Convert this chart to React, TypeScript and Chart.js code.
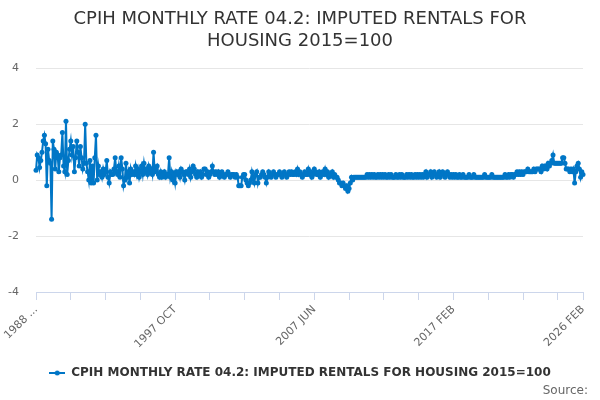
import React, { useEffect, useRef } from 'react';
import { Chart, registerables } from 'chart.js';

Chart.register(...registerables);
Chart.defaults.font.family = "'DejaVu Sans', sans-serif";

const MONTHS = ['JAN', 'FEB', 'MAR', 'APR', 'MAY', 'JUN', 'JUL', 'AUG', 'SEP', 'OCT', 'NOV', 'DEC'];
const START_YEAR = 1988;
const START_MONTH = 1; // FEB

// monthly rate, %
const rates1980s = [
  0.35, 0.9, 0.8, 0.45, 0.7, 1.0, 1.4, 1.6, 1.3, -0.2, 1.1, // 1988 FEB-DEC
  0.7, 0.6, -1.4, 1.4, 1.1, 0.4, 1.0, 0.9, 0.3, 0.8, 0.9, 1.7, // 1989
];
const rates1990s = [
  0.5, 0.3, 2.1, 0.2, 0.7, 1.1, 1.4, 0.9, 1.2, 0.3, 0.8, 1.4,
  1.0, 0.5, 1.2, 0.8, 0.4, 0.6, 2.0, 0.6, 0.3, 0.0, 0.7, -0.1,
  0.5, -0.1, 0.8, 1.6, 0.0, 0.5, 0.2, 0.3, 0.1, 0.4, 0.2, 0.3,
  0.7, 0.1, -0.1, 0.3, 0.2, 0.2, 0.4, 0.8, 0.3, 0.2, 0.5, 0.1,
  0.8, 0.4, -0.2, 0.0, 0.6, 0.1, 0.3, -0.1, 0.4, 0.2, 0.3, 0.2,
  0.5, 0.2, 0.4, 0.1, 0.3, 0.5, 0.2, 0.6, 0.3, 0.4, 0.2, 0.5,
  0.3, 0.4, 0.2, 1.0, 0.3, 0.4, 0.5, 0.2, 0.1, 0.3, 0.1, 0.2,
  0.3, 0.1, 0.2, 0.2, 0.8, 0.1, 0.3, 0.0, 0.2, -0.1, 0.3, 0.2,
  0.3, 0.1, 0.4, 0.3, 0.2, 0.0, 0.3, 0.3, 0.2, 0.4, 0.1, 0.3,
  0.5, 0.4, 0.2, 0.1, 0.3, 0.2, 0.3, 0.1, 0.2, 0.4, 0.4, 0.2,
];
const rates2000s = [
  0.3, 0.1, 0.2, 0.3, 0.5, 0.3, 0.2, 0.3, 0.2, 0.3, 0.1, 0.2,
  0.3, 0.2, 0.1, 0.2, 0.2, 0.3, 0.2, 0.1, 0.2, 0.2, 0.2, 0.1,
  0.2, 0.1, -0.2, -0.2, -0.2, 0.1, 0.2, 0.2, 0.0, -0.1, -0.2, -0.1,
  0.0, 0.3, 0.1, -0.1, 0.2, 0.3, -0.1, 0.1, 0.1, 0.2, 0.3, 0.2,
  0.1, -0.1, 0.1, 0.3, 0.2, 0.1, 0.2, 0.3, 0.2, 0.1, 0.2, 0.2,
  0.3, 0.2, 0.1, 0.2, 0.3, 0.2, 0.1, 0.2, 0.3, 0.2, 0.3, 0.2,
  0.2, 0.3, 0.2, 0.4, 0.2, 0.3, 0.2, 0.1, 0.2, 0.3, 0.2, 0.2,
  0.4, 0.2, 0.3, 0.1, 0.2, 0.4, 0.3, 0.2, 0.2, 0.3, 0.1, 0.2,
  0.3, 0.2, 0.4, 0.2, 0.3, 0.1, 0.2, 0.2, 0.3, 0.1, 0.2, 0.1,
  0.1, 0.0, -0.1, -0.1, -0.2, -0.1, -0.2, -0.3, -0.2, -0.4, -0.3, -0.1,
];
const rates2010s = [
  0.1, 0.0, 0.1, 0.1, 0.1, 0.1, 0.1, 0.1, 0.1, 0.1, 0.1, 0.1,
  0.1, 0.2, 0.1, 0.2, 0.1, 0.2, 0.1, 0.2, 0.1, 0.1, 0.2, 0.1,
  0.2, 0.1, 0.2, 0.1, 0.2, 0.1, 0.1, 0.2, 0.1, 0.2, 0.1, 0.1,
  0.1, 0.2, 0.1, 0.1, 0.2, 0.1, 0.2, 0.1, 0.1, 0.1, 0.2, 0.1,
  0.2, 0.1, 0.2, 0.1, 0.1, 0.2, 0.1, 0.2, 0.1, 0.2, 0.1, 0.2,
  0.1, 0.2, 0.3, 0.1, 0.2, 0.2, 0.3, 0.1, 0.2, 0.3, 0.2, 0.1,
  0.2, 0.3, 0.1, 0.2, 0.3, 0.2, 0.1, 0.2, 0.3, 0.2, 0.1, 0.2,
  0.1, 0.2, 0.1, 0.2, 0.1, 0.1, 0.2, 0.1, 0.1, 0.2, 0.1, 0.1,
  0.1, 0.1, 0.2, 0.1, 0.1, 0.1, 0.2, 0.1, 0.1, 0.1, 0.1, 0.1,
  0.1, 0.1, 0.1, 0.2, 0.1, 0.1, 0.1, 0.1, 0.1, 0.2, 0.1, 0.1,
];
const rates2020s = [
  0.1, 0.1, 0.1, 0.1, 0.1, 0.1, 0.1, 0.1, 0.2, 0.1, 0.1, 0.2,
  0.1, 0.2, 0.2, 0.1, 0.2, 0.2, 0.3, 0.2, 0.3, 0.2, 0.3, 0.2,
  0.3, 0.3, 0.3, 0.4, 0.3, 0.3, 0.3, 0.3, 0.4, 0.3, 0.4, 0.4,
  0.4, 0.4, 0.3, 0.5, 0.4, 0.5, 0.5, 0.4, 0.6, 0.5, 0.6, 0.7,
  0.9, 0.6, 0.6, 0.6, 0.6, 0.6, 0.6, 0.6, 0.8, 0.8, 0.6, 0.4,
  0.4, 0.4, 0.3, 0.4, 0.3, 0.4, -0.1, 0.3, 0.5, 0.6, 0.4, 0.1,
  0.3, 0.2, // 2026 JAN-FEB
];

const rates = [...rates1980s, ...rates1990s, ...rates2000s, ...rates2010s, ...rates2020s];

const categories = rates.map((_, i) => {
  const m = START_MONTH + i;
  return `${START_YEAR + Math.floor(m / 12)} ${MONTHS[m % 12]}`;
});

// labelled x ticks and the text shown for them (first one is cut off in the original)
const labelledTicks = ['1988 FEB', '1997 OCT', '2007 JUN', '2017 FEB', '2026 FEB'];
const tickText = ['1988 ...', '1997 OCT', '2007 JUN', '2017 FEB', '2026 FEB'];
const TICK_STEP = 29;

const TITLE = ['CPIH MONTHLY RATE 04.2: IMPUTED RENTALS FOR', 'HOUSING 2015=100'];
const SERIES_NAME = 'CPIH MONTHLY RATE 04.2: IMPUTED RENTALS FOR HOUSING 2015=100';
const BLUE = '#0076c6';

const sourcePlugin = {
  id: 'sourceText',
  afterDraw(chart: Chart) {
    const c = chart.ctx;
    c.save();
    c.font = "12px 'DejaVu Sans', sans-serif";
    c.fillStyle = '#666666';
    c.textAlign = 'right';
    c.textBaseline = 'alphabetic';
    c.fillText('Source:', 588, 394);
    c.restore();
  },
};

const App: React.FC = () => {
  const chartRef = useRef<HTMLCanvasElement | null>(null);

  useEffect(() => {
    document.body.style.margin = '0';
    if (!chartRef.current) return;
    const ctx = chartRef.current.getContext('2d');
    if (!ctx) return;

    // legend symbol: short line with a dot on it
    const marker = document.createElement('canvas');
    marker.width = 16;
    marker.height = 8;
    const mc = marker.getContext('2d');
    if (mc) {
      mc.strokeStyle = BLUE;
      mc.lineWidth = 2;
      mc.beginPath();
      mc.moveTo(0, 4);
      mc.lineTo(16, 4);
      mc.stroke();
      mc.fillStyle = BLUE;
      mc.beginPath();
      mc.arc(8, 4, 2.5, 0, Math.PI * 2);
      mc.fill();
    }

    const labelAt = new Map<number, string>();
    labelledTicks.forEach((c, k) => labelAt.set(categories.indexOf(c), tickText[k]));
    const tickValues: number[] = [];
    for (let i = 0; i < categories.length; i += TICK_STEP) tickValues.push(i);
    labelAt.forEach((_, i) => {
      if (!tickValues.includes(i)) tickValues.push(i);
    });
    tickValues.sort((a, b) => a - b);

    const chart = new Chart(ctx, {
      type: 'line',
      data: {
        labels: categories,
        datasets: [
          {
            label: SERIES_NAME,
            data: rates,
            borderColor: BLUE,
            backgroundColor: BLUE,
            borderWidth: 2,
            pointRadius: 2.5,
            pointBorderWidth: 0,
            pointBackgroundColor: BLUE,
            tension: 0,
            clip: false,
          },
        ],
      },
      options: {
        responsive: false,
        animation: false,
        layout: { padding: { left: 0, right: 0, top: 0, bottom: 11 } },
        plugins: {
          title: {
            display: true,
            text: TITLE,
            color: '#333333',
            font: { size: 18, weight: 'normal', lineHeight: 1.2 },
            padding: { top: 9, bottom: 16 },
          },
          legend: {
            position: 'bottom',
            labels: {
              usePointStyle: true,
              pointStyle: marker,
              pointStyleWidth: 16,
              color: '#333333',
              font: { size: 12, weight: 'bold' },
              padding: 10,
            },
          },
          tooltip: { enabled: false },
        },
        scales: {
          x: {
            type: 'category',
            grid: { drawOnChartArea: false, drawTicks: true, tickLength: 8, tickColor: '#ccd6eb' },
            border: { color: '#ccd6eb' },
            afterBuildTicks: (scale: any) => {
              scale.ticks = tickValues.map((v) => ({ value: v }));
            },
            afterFit: (scale: any) => {
              scale.height = 65;
            },
            ticks: {
              autoSkip: false,
              minRotation: 45,
              maxRotation: 45,
              padding: 3,
              color: '#666666',
              font: { size: 11 },
              callback: (value: any) => labelAt.get(Number(value)) ?? '',
            },
          },
          y: {
            min: -4,
            max: 4,
            ticks: { stepSize: 2, padding: 17, color: '#666666', font: { size: 11 } },
            grid: { color: '#e6e6e6', drawTicks: false },
            border: { display: false },
            afterFit: (scale: any) => {
              scale.width = 36;
            },
          },
          // empty right-hand axis, only keeps the right margin so the title stays centred
          yRight: {
            position: 'right',
            display: true,
            min: -4,
            max: 4,
            ticks: { display: false },
            grid: { display: false },
            border: { display: false },
            afterFit: (scale: any) => {
              scale.width = 17;
            },
          },
        },
      },
      plugins: [sourcePlugin],
    });

    return () => {
      chart.destroy();
    };
  }, []);

  return (
    <div style={{ width: 600, height: 400 }}>
      <canvas ref={chartRef} width={600} height={400} style={{ display: 'block' }} />
    </div>
  );
};

export default App;
